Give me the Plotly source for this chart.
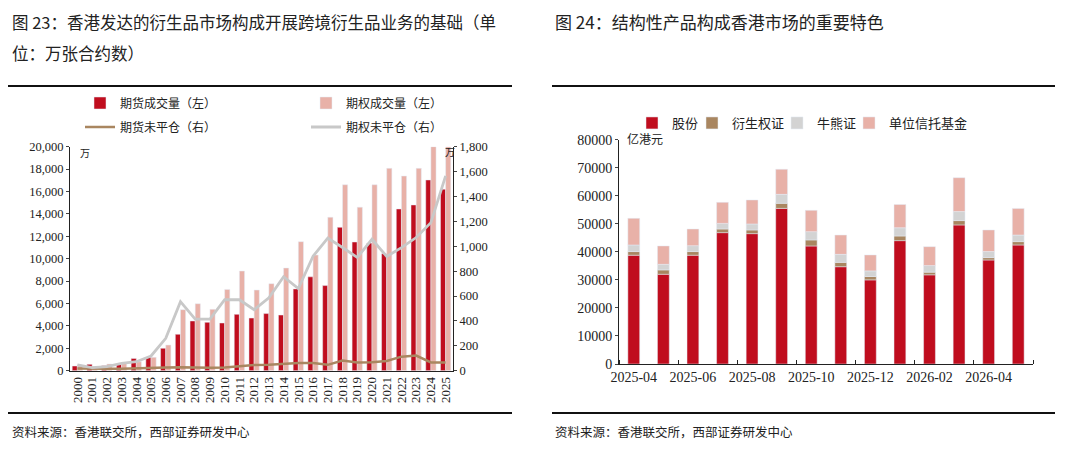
import plotly.graph_objects as go

W, H = 1080, 456
PAGE_PAD = 8  # browser body margin

# ---- 图23 data (万张合约数) ----
years = [str(y) for y in range(2000, 2026)]
fut_vol = [420, 570, 450, 580, 1100, 1200, 2000, 3250, 4440, 4320, 4260, 5030, 4700,
           5100, 4970, 7300, 8380, 7600, 12800, 11490, 11400, 10450, 14440, 14800, 17030, 16200]
opt_vol = [520, 350, 600, 710, 800, 1190, 2290, 5450, 5980, 5480, 7260, 8900, 7200,
           7770, 9170, 11520, 10330, 13700, 16600, 14600, 16600, 18070, 17380, 18070, 20000, 20000]
fut_oi = [18, 15, 15, 16, 17, 18, 25, 27, 24, 24, 26, 38, 46,
          47, 54, 62, 62, 47, 81, 66, 67, 78, 113, 122, 66, 66]
opt_oi = [46, 25, 33, 58, 72, 118, 260, 555, 415, 415, 570, 570, 490,
          585, 755, 660, 920, 1065, 990, 910, 1056, 918, 989, 1070, 1190, 1565]

# ---- 图24 data (亿港元) ----
months = ["2025-04", "2025-05", "2025-06", "2025-07", "2025-08", "2025-09", "2025-10",
          "2025-11", "2025-12", "2026-01", "2026-02", "2026-03", "2026-04", "2026-05"]
stocks = [38800, 32000, 38800, 46850, 46500, 55500, 42100, 34700, 30000, 44000, 31800, 49600, 37100, 42450]
warrants = [1300, 1550, 1300, 1300, 1300, 1800, 2150, 1550, 1200, 1650, 950, 1550, 850, 1200]
cbbc = [2350, 2000, 2100, 2000, 2150, 3200, 2950, 2850, 2000, 2950, 2350, 3200, 2150, 2350]
unit_trusts = [9500, 6550, 5950, 7500, 8550, 8950, 7600, 6900, 5700, 8300, 6750, 12100, 7700, 9500]

RED = "#C00D1E"
PINK = "#E8B1A8"
BROWN = "#A98660"
GRAY = "#C8C8C8"
LIGHTGRAY = "#D3D3D3"
SERIF = "Liberation Serif, Noto Sans CJK SC"
CJK = "Noto Sans CJK SC"


def px(x):
    return (x - PAGE_PAD) / W


def py(y):
    return 1 - (y - PAGE_PAD) / H


fig = go.Figure()

# left chart
fig.add_trace(go.Bar(x=years, y=fut_vol, name="期货成交量（左）", marker_color=RED,
                     xaxis="x", yaxis="y", legend="legend", offsetgroup="a"))
fig.add_trace(go.Bar(x=years, y=opt_vol, name="期权成交量（左）", marker_color=PINK,
                     xaxis="x", yaxis="y", legend="legend", offsetgroup="b"))
fig.add_trace(go.Scatter(x=years, y=fut_oi, name="期货未平仓（右）", mode="lines",
                         line=dict(color=BROWN, width=2.5), xaxis="x", yaxis="y2", legend="legend2"))
fig.add_trace(go.Scatter(x=years, y=opt_oi, name="期权未平仓（右）", mode="lines",
                         line=dict(color=GRAY, width=2.8), xaxis="x", yaxis="y2", legend="legend2"))

# right chart: stacked by base, one legend per item so the spacing can be set
xi = list(range(len(months)))
base = [0] * len(months)
right_series = [("股份", stocks, RED, "legend3", 632),
                ("衍生权证", warrants, BROWN, "legend4", 692),
                ("牛熊证", cbbc, LIGHTGRAY, "legend5", 777),
                ("单位信托基金", unit_trusts, PINK, "legend6", 849)]
for name, vals, col, leg, _ in right_series:
    fig.add_trace(go.Bar(x=xi, y=vals, base=list(base), name=name, marker_color=col,
                         width=0.4, offset=-0.2, offsetgroup="s",
                         xaxis="x2", yaxis="y3", legend=leg))
    base = [b + v for b, v in zip(base, vals)]

axis_line = dict(showline=True, linecolor="#222", linewidth=1, showgrid=False, zeroline=False)

fig.update_layout(
    width=W, height=H, autosize=False,
    margin=dict(l=0, r=0, t=0, b=0, autoexpand=False),
    paper_bgcolor="white", plot_bgcolor="white",
    barmode="group", bargap=0.3, bargroupgap=0,
    showlegend=True,
    font=dict(family=CJK, color="#222"),
    xaxis=dict(domain=[px(70), px(453)], anchor="y", type="category", tickangle=-90,
               tickmode="array", tickvals=years, ticks="",
               tickfont=dict(family=SERIF, size=13, color="#222"), **axis_line),
    yaxis=dict(domain=[py(370.7), py(146.7)], anchor="x", range=[0, 20000], dtick=2000,
               tickformat=",", ticks="outside", ticklen=3,
               tickfont=dict(family=SERIF, size=12.5, color="#222"), **axis_line),
    yaxis2=dict(overlaying="y", side="right", anchor="x", range=[0, 1800], dtick=200,
                tickformat=",", ticks="outside", ticklen=3,
                tickfont=dict(family=SERIF, size=12.5, color="#222"), **axis_line),
    xaxis2=dict(domain=[px(619), px(1033)], anchor="y3", range=[-0.5, len(months) - 0.5],
                tickmode="array", tickvals=xi[::2], ticktext=months[::2], ticks="",
                minor=dict(tickmode="linear", tick0=1.5, dtick=2, ticks="inside",
                           ticklen=4, tickcolor="#222", showgrid=False),
                tickfont=dict(family=SERIF, size=14, color="#222"), **axis_line),
    yaxis3=dict(domain=[py(364), py(139.7)], anchor="x2", range=[0, 80000], dtick=10000,
                tickformat="d", ticks="outside", ticklen=3,
                tickfont=dict(family=SERIF, size=14, color="#222"), **axis_line),
    legend=dict(orientation="h", x=px(80), y=py(103), xanchor="left", yanchor="middle",
                entrywidth=181, font=dict(size=12, color="#222"), bgcolor="rgba(0,0,0,0)"),
    legend2=dict(orientation="h", x=px(80), y=py(127), xanchor="left", yanchor="middle",
                 entrywidth=181, font=dict(size=12, color="#222"), bgcolor="rgba(0,0,0,0)"),
)
for _, _, _, leg, lx in right_series:
    fig.update_layout({leg: dict(orientation="h", x=px(lx), y=py(123), xanchor="left",
                                 yanchor="middle", itemwidth=30, bgcolor="rgba(0,0,0,0)",
                                 font=dict(size=13, color="#222"))})

# titles, rules and source notes
texts = [
    (10, 22, "图 23：香港发达的衍生品市场构成开展跨境衍生品业务的基础（单", 16.5),
    (10, 53, "位：万张合约数）", 16.5),
    (553, 22, "图 24：结构性产品构成香港市场的重要特色", 17),
    (10, 431, "资料来源：香港联交所，西部证券研发中心", 12.5),
    (553, 431, "资料来源：香港联交所，西部证券研发中心", 12.5),
    (78, 153, "万", 10),
    (443, 151, "万", 10),
    (625, 139, "亿港元", 12),
]
for x, y, t, s in texts:
    fig.add_annotation(x=px(x), y=py(y), xref="paper", yref="paper", text=t,
                       showarrow=False, xanchor="left", yanchor="middle",
                       font=dict(family=CJK, size=s, color="#222"))

for x0, x1, y in [(8, 512, 86), (8, 512, 413), (552, 1055, 86), (552, 1055, 413)]:
    fig.add_shape(type="line", xref="paper", yref="paper", x0=px(x0), x1=px(x1),
                  y0=py(y), y1=py(y), line=dict(color="#111", width=2))

fig.write_html("out.html")
